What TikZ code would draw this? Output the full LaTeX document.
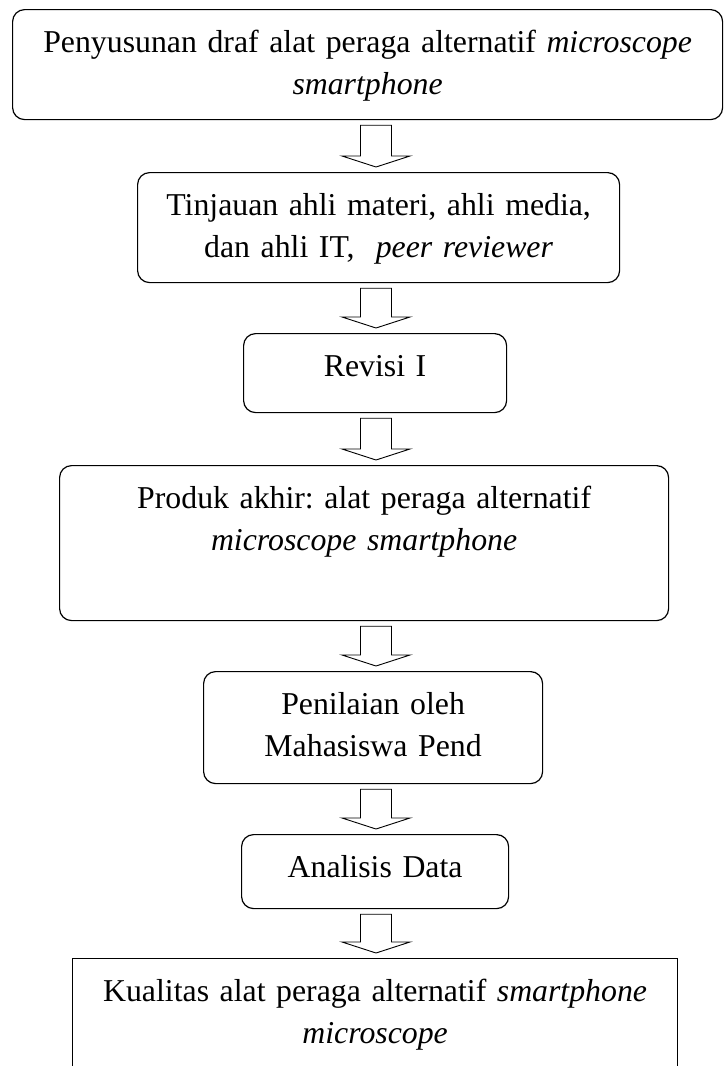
\documentclass[tikz,border=0pt]{standalone}
\usepackage{fontspec}
\setmainfont{Liberation Serif}
\usetikzlibrary{calc}
\frenchspacing

\begin{document}
\begin{tikzpicture}[
  x=1pt, y=-1pt,
  font=\fontsize{31.8}{41.5}\selectfont,
  stage/.style={draw, line width=1.2pt, rounded corners=12pt, anchor=north west,
    align=center, inner xsep=0pt, inner ysep=0pt, text height=43pt},
  result/.style={stage, sharp corners},
  blockarrow/.style={draw=black, line width=0.9pt, fill=white}
]
\useasboundingbox (0,0) rectangle (724,1066);
\coordinate (axis) at (376,0);

\node[stage, text width=710pt, text depth=67pt] (draf) at (12,9)
  {Penyusunan draf alat peraga alternatif \textit{microscope}\\ \textit{smartphone}};
\node[stage, text width=482pt, text depth=67pt] (tinjau) at (137,172)
  {Tinjauan ahli materi, ahli media,\\ dan ahli IT, \ \textit{peer reviewer}};
\node[stage, text width=263pt, text depth=36pt] (revisi) at (243,333)
  {Revisi I};
\node[stage, text width=609pt, text depth=112pt] (produk) at (59,465)
  {Produk akhir: alat peraga alternatif\\ \textit{microscope smartphone}};
\node[stage, text width=339pt, text depth=69pt] (nilai) at (203,671)
  {Penilaian oleh\\ Mahasiswa Pend};
\node[stage, text width=267pt, text depth=31pt] (data) at (241,834)
  {Analisis Data};
\node[result, text width=605pt, text depth=97pt] (mutu) at (72,958)
  {Kualitas alat peraga alternatif \textit{smartphone}\\ \textit{microscope}};

% hollow block arrows between the stages
\foreach \a/\b in {draf/tinjau, tinjau/revisi, revisi/produk, produk/nilai, nilai/data, data/mutu}
  \draw[blockarrow] ($(\a.south -| axis)+(-15.5,5)$) -- ($(\b.north -| axis)+(-15.5,-16)$)
    -- ++(-18.5,0) -- ($(\b.north -| axis)+(0,-5)$) -- ($(\b.north -| axis)+(34,-16)$)
    -- ++(-18.5,0) -- ($(\a.south -| axis)+(15.5,5)$) -- cycle;

\end{tikzpicture}
\end{document}
